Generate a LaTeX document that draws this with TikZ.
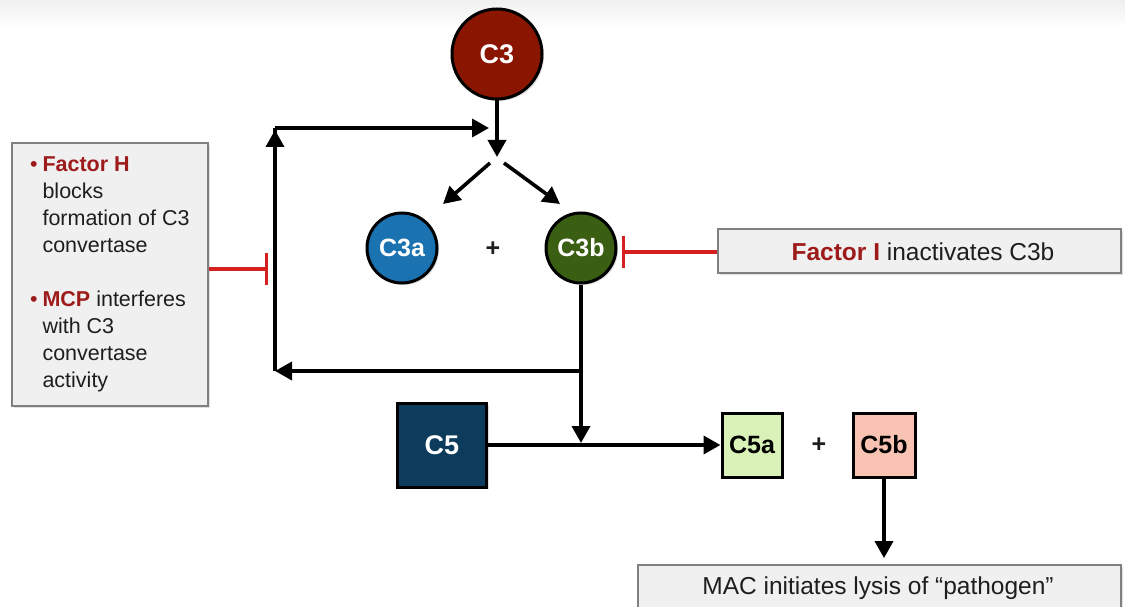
\documentclass[tikz,border=0pt]{standalone}
\usepackage{fontspec}
\setmainfont{Liberation Sans}
\usetikzlibrary{arrows.meta,shadows,calc}
\definecolor{cthree}{HTML}{8A1500}
\definecolor{cthreea}{HTML}{1A72B0}
\definecolor{cthreeb}{HTML}{3A5E12}
\definecolor{cfive}{HTML}{0D3B5C}
\definecolor{cfivea}{HTML}{D8F2B8}
\definecolor{cfiveb}{HTML}{F9C3B4}
\definecolor{fred}{HTML}{9E1B1B}
\definecolor{ired}{HTML}{D42020}
\definecolor{txt}{HTML}{1E1E1E}
\definecolor{boxfill}{HTML}{F0F0F0}
\definecolor{boxline}{HTML}{808080}
\tikzset{
  circ/.style={circle, draw=black, line width=3pt, minimum size=70pt, inner sep=0pt,
    text=white, font=\fontsize{25}{25}\selectfont\bfseries,
    drop shadow={shadow xshift=2pt, shadow yshift=-2pt, opacity=0.25}},
  sq/.style={rectangle, draw=black, line width=3pt, inner sep=0pt,
    font=\fontsize{25}{25}\selectfont\bfseries,
    drop shadow={shadow xshift=2pt, shadow yshift=-2pt, opacity=0.25}},
  gbox/.style={rectangle, draw=boxline, fill=boxfill, line width=1.8pt, inner sep=0pt,
    text=txt, drop shadow={shadow xshift=2pt, shadow yshift=-2pt, opacity=0.25}},
  arr/.style={draw=black, line width=3.6pt, -{Triangle[length=17pt,width=18pt]}},
  inh/.style={draw=ired, line width=3.2pt, -{Bar[width=32pt]}},
  plus/.style={font=\fontsize{25}{25}\selectfont\bfseries, text=txt},
}
\begin{document}
\begin{tikzpicture}[x=1pt,y=-1pt]
\useasboundingbox (0,0) rectangle (1125,607);
\clip (0,0) rectangle (1125,607);
\fill[white] (0,0) rectangle (1125,607);
\shade[top color=black!6, bottom color=white] (0,0) rectangle (1125,28);

% nodes
\node[circ, fill=cthree, minimum size=90pt, font=\fontsize{27}{27}\selectfont\bfseries] (c3) at (497,54) {C3};
\coordinate (split) at (497,157);
\coordinate (sl) at (490,163);
\coordinate (slt) at (443,204);
\coordinate (sr) at (504,163);
\coordinate (srt) at (560,204);
\node[circ, fill=cthreea] (c3a) at (402,248) {C3a};
\node[plus] (p1) at (493,249) {+};
\node[circ, fill=cthreeb] (c3b) at (581,248) {C3b};

\node[gbox, minimum width=403pt, minimum height=44pt] (fbox) at (919.5,251) {};
\node[font=\fontsize{24.5}{24.5}\selectfont, text=txt] (ftext) at (923,252)
  {\textcolor{fred}{\textbf{Factor I}} inactivates C3b};

\node[gbox, minimum width=196pt, minimum height=263pt] (lbox) at (110,274.5) {};
\node[anchor=west, align=left, text=txt, font=\fontsize{21.5}{27}\selectfont] (ltext) at (39,274.5)
  {\llap{\textcolor{fred}{\textbullet}\hspace{5pt}}\textcolor{fred}{\textbf{Factor H}}\\
   blocks\\ formation of C3\\ convertase\\[27pt]
   \llap{\textcolor{fred}{\textbullet}\hspace{5pt}}\textcolor{fred}{\textbf{MCP}} interferes\\
   with C3\\ convertase\\ activity};

\coordinate (j1) at (581,371);
\coordinate (lc1) at (275,371);
\coordinate (lc2) at (275,128);
\coordinate (lc2t) at (275,130);
\coordinate (c3line) at (489,128);
\coordinate (j2) at (581,443);
\coordinate (lbar) at (268,269);
\coordinate (fbar) at (622,252);

\node[sq, fill=cfive, text=white, minimum width=89pt, minimum height=84pt,
  font=\fontsize{27}{27}\selectfont\bfseries] (c5) at (442,445) {C5};
\node[sq, fill=cfivea, text=black, minimum width=60pt, minimum height=64pt] (c5a) at (752,445) {C5a};
\node[plus] (p2) at (819,445) {+};
\node[sq, fill=cfiveb, text=black, minimum width=62pt, minimum height=64pt] (c5b) at (884,445) {C5b};

\node[gbox, minimum width=483pt, minimum height=46pt] (mac) at (879.5,588) {};
\node[font=\fontsize{24.5}{24.5}\selectfont, text=txt] (mtext) at (878,588)
  {MAC initiates lysis of “pathogen”};

% connectors
\draw[arr] (c3.south) -- (split);
\draw[arr] (sl) -- (slt);
\draw[arr] (sr) -- (srt);
\draw[line width=3.6pt] (c3b.south) -- (j1);
\draw[arr] (j1) -- (j2);
\draw[arr] (j1) -- (lc1);
\draw[line width=3.6pt] (lc1) -- (lc2);
\draw[arr] (lc1) -- (lc2t);
\draw[arr] (lc2) -- (c3line);
\draw[arr] (c5.east) -- (c5a.west);
\draw[arr, shorten >=6pt] (c5b.south) -- (c5b.south |- mac.north);
\draw[inh] (lbox.east |- lbar) -- (lbar);
\draw[inh] (fbox.west |- fbar) -- (fbar);
\end{tikzpicture}
\end{document}
